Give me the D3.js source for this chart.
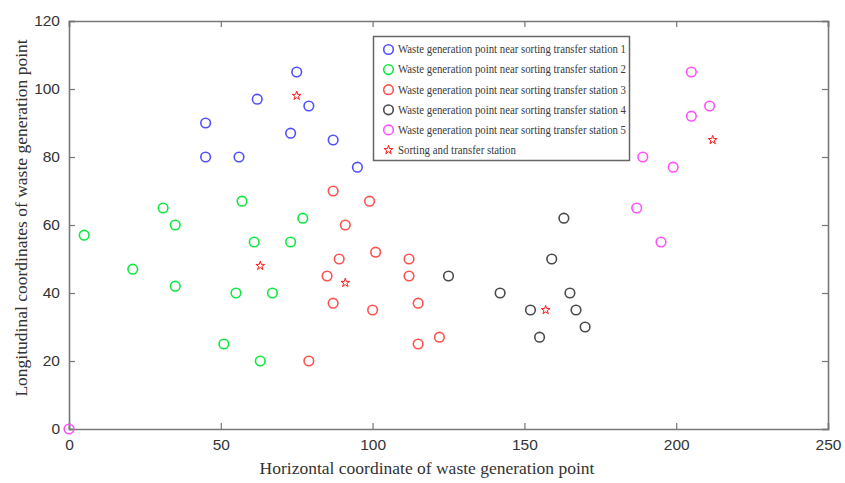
<!DOCTYPE html>
<html>
<head>
<meta charset="utf-8">
<script src="https://cdn.jsdelivr.net/npm/d3@7"></script>
<style>
  html, body { margin: 0; padding: 0; background: #fff; }
  svg { display: block; }
</style>
</head>
<body>
<svg id="chart" width="845" height="483"></svg>
<script>
// Waste generation points grouped by nearest sorting/transfer station
const station1 = [[45,80],[45,90],[56,80],[62,97],[73,87],[75,105],[79,95],[87,85],[95,77]];
const station2 = [[5,57],[21,47],[31,65],[35,60],[35,42],[57,67],[61,55],[55,40],[51,25],[63,20],[67,40],[73,55],[77,62]];
const station3 = [[87,70],[99,67],[91,60],[101,52],[89,50],[112,50],[85,45],[112,45],[87,37],[100,35],[115,37],[115,25],[122,27],[79,20]];
const station4 = [[125,45],[142,40],[152,35],[155,27],[159,50],[163,62],[165,40],[167,35],[170,30]];
const station5 = [[0,0],[187,65],[189,80],[195,55],[199,77],[205,92],[205,105],[211,95]];
const stations = [[75,98],[63,48],[91,43],[157,35],[212,85]];

const xTicks = [0, 50, 100, 150, 200, 250];
const yTicks = [0, 20, 40, 60, 80, 100, 120];

const seriesNames = [
  "Waste generation point near sorting transfer station 1",
  "Waste generation point near sorting transfer station 2",
  "Waste generation point near sorting transfer station 3",
  "Waste generation point near sorting transfer station 4",
  "Waste generation point near sorting transfer station 5",
  "Sorting and transfer station"
];
const seriesColors = ["#5050ff", "#10e840", "#ff5050", "#4a4a4a", "#ff50ff", "#ff1a1a"];
const groups = [station1, station2, station3, station4, station5];

const svg = d3.select("#chart");
const m = { left: 69, right: 17, top: 21, bottom: 54 };
const W = 845, H = 483;

const x = d3.scaleLinear().domain([0, 250]).range([m.left, W - m.right]);
const y = d3.scaleLinear().domain([0, 120]).range([H - m.bottom, m.top]);

const frameColor = "#777";
const tickLen = 6;

// Axes with inward ticks on all four sides
const gx = svg.append("g").attr("transform", `translate(0,${y(0)})`)
  .call(d3.axisBottom(x).tickValues(xTicks).tickSize(-tickLen).tickPadding(10).tickFormat(d3.format("d")));
const gy = svg.append("g").attr("transform", `translate(${x(0)},0)`)
  .call(d3.axisLeft(y).tickValues(yTicks).tickSize(-tickLen).tickPadding(9).tickFormat(d3.format("d")));
const gxt = svg.append("g").attr("transform", `translate(0,${y(120)})`)
  .call(d3.axisTop(x).tickValues(xTicks).tickSize(-tickLen).tickFormat(""));
const gyr = svg.append("g").attr("transform", `translate(${x(250)},0)`)
  .call(d3.axisRight(y).tickValues(yTicks).tickSize(-tickLen).tickFormat(""));

[gx, gy, gxt, gyr].forEach(g => {
  g.selectAll(".domain").attr("stroke", frameColor).attr("stroke-width", 1.6);
  g.selectAll(".tick line").attr("stroke", frameColor).attr("stroke-width", 1.2);
  g.selectAll(".tick text")
    .attr("fill", "#333")
    .style("font-family", "'Liberation Sans', Arial, sans-serif")
    .style("font-size", "15.5px");
});

// Axis titles
svg.append("text")
  .attr("x", 427)
  .attr("y", 474)
  .attr("text-anchor", "middle")
  .attr("fill", "#333")
  .style("font-family", "'Liberation Serif', 'Times New Roman', serif")
  .style("font-size", "17.5px")
  .text("Horizontal coordinate of waste generation point");

svg.append("text")
  .attr("transform", `translate(27,218) rotate(-90)`)
  .attr("text-anchor", "middle")
  .attr("fill", "#333")
  .style("font-family", "'Liberation Serif', 'Times New Roman', serif")
  .style("font-size", "17.5px")
  .text("Longitudinal coordinates of waste generation point");

// Waste generation points
const plot = svg.append("g");
groups.forEach((pts, i) => {
  plot.selectAll(null).data(pts).enter().append("circle")
    .attr("cx", d => x(d[0]))
    .attr("cy", d => y(d[1]))
    .attr("r", 4.8)
    .attr("fill", "none")
    .attr("stroke", seriesColors[i])
    .attr("stroke-width", 1.6);
});

// Sorting and transfer stations
const star = d3.symbol().type(d3.symbolStar).size(24);
plot.selectAll(null).data(stations).enter().append("path")
  .attr("d", star)
  .attr("transform", d => `translate(${x(d[0])},${y(d[1])})`)
  .attr("fill", "none")
  .attr("stroke", seriesColors[5])
  .attr("stroke-width", 1.0);

// Legend
const lg = svg.append("g");
lg.append("rect")
  .attr("x", 373.5).attr("y", 36.5)
  .attr("width", 256).attr("height", 124)
  .attr("fill", "#fff")
  .attr("stroke", "#666")
  .attr("stroke-width", 1.5);

seriesNames.forEach((name, i) => {
  const cy = 49.5 + i * 20.1;
  if (i < 5) {
    lg.append("circle")
      .attr("cx", 388.5).attr("cy", cy).attr("r", 4.8)
      .attr("fill", "none").attr("stroke", seriesColors[i]).attr("stroke-width", 1.6);
  } else {
    lg.append("path")
      .attr("d", star)
      .attr("transform", `translate(388.5,${cy})`)
      .attr("fill", "none").attr("stroke", seriesColors[i]).attr("stroke-width", 1.0);
  }
  const t = lg.append("text")
    .attr("x", 398).attr("y", cy + 3.8)
    .attr("fill", "#3a3a3a")
    .style("font-family", "'Liberation Serif', 'Times New Roman', serif")
    .style("font-size", "11.5px")
    .text(name);
  if (i < 5) t.attr("textLength", 228).attr("lengthAdjust", "spacingAndGlyphs");
  else t.attr("textLength", 118).attr("lengthAdjust", "spacingAndGlyphs");
});
</script>
</body>
</html>
